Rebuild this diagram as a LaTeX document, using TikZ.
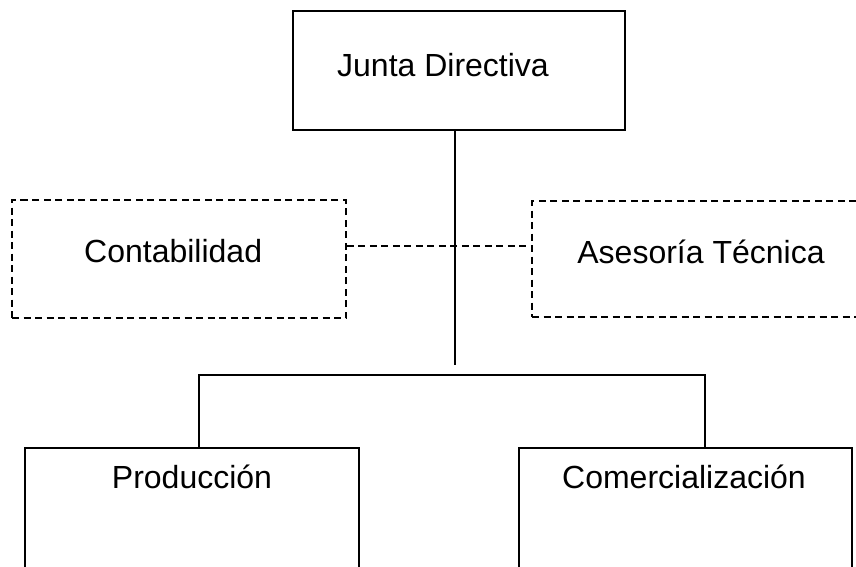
\documentclass[tikz,border=0pt]{standalone}
\usepackage{fontspec}
\setmainfont{Liberation Sans}
\begin{document}
\begin{tikzpicture}[x=1pt,y=-1pt,
  solidbox/.style={draw=black,line width=2pt,rectangle,inner sep=0pt},
  dashbox/.style={draw=black,line width=1.6pt,rectangle,inner sep=0pt,dash pattern=on 7pt off 4.5pt},
  lbl/.style={font=\fontsize{32}{38}\selectfont,inner sep=0pt,anchor=base},
  link/.style={draw=black,line width=2pt},
  dlink/.style={draw=black,line width=1.6pt,dash pattern=on 7pt off 4.5pt}]
\useasboundingbox (0,0) rectangle (856,566);
\clip (0,0) rectangle (856,566);
% boxes
\node[solidbox,minimum width=332pt,minimum height=119pt] (junta) at (459,70.5) {};
\node[dashbox,minimum width=334pt,minimum height=118pt] (conta) at (179,259) {};
\node[dashbox,minimum width=334pt,minimum height=116pt] (ases) at (699,259) {};
\node[solidbox,minimum width=334pt,minimum height=200pt] (prod) at (192,548) {};
\node[solidbox,minimum width=333pt,minimum height=200pt] (com) at (685.5,548) {};
% texts
\node[lbl,anchor=base west] (tjunta) at (337,76) {Junta Directiva};
\node[lbl,anchor=base west] (tconta) at (84,262) {Contabilidad};
\node[lbl] (tases) at (701,263) {Asesoría Técnica};
\node[lbl] (tprod) at (192,488) {Producción};
\node[lbl] (tcom) at (684,488) {Comercialización};
% connectors
\coordinate (trunk) at (455,365);
\coordinate (barL) at (199,375);
\coordinate (barR) at (705,375);
\coordinate (dashy) at (455,246);
\draw[link] (junta.south -| trunk) -- (trunk);
\draw[link] (prod.north -| barL) -- (barL) -- (barR) -- (com.north -| barR);
\draw[dlink] (conta.east |- dashy) -- (ases.west |- dashy);
\end{tikzpicture}
\end{document}
